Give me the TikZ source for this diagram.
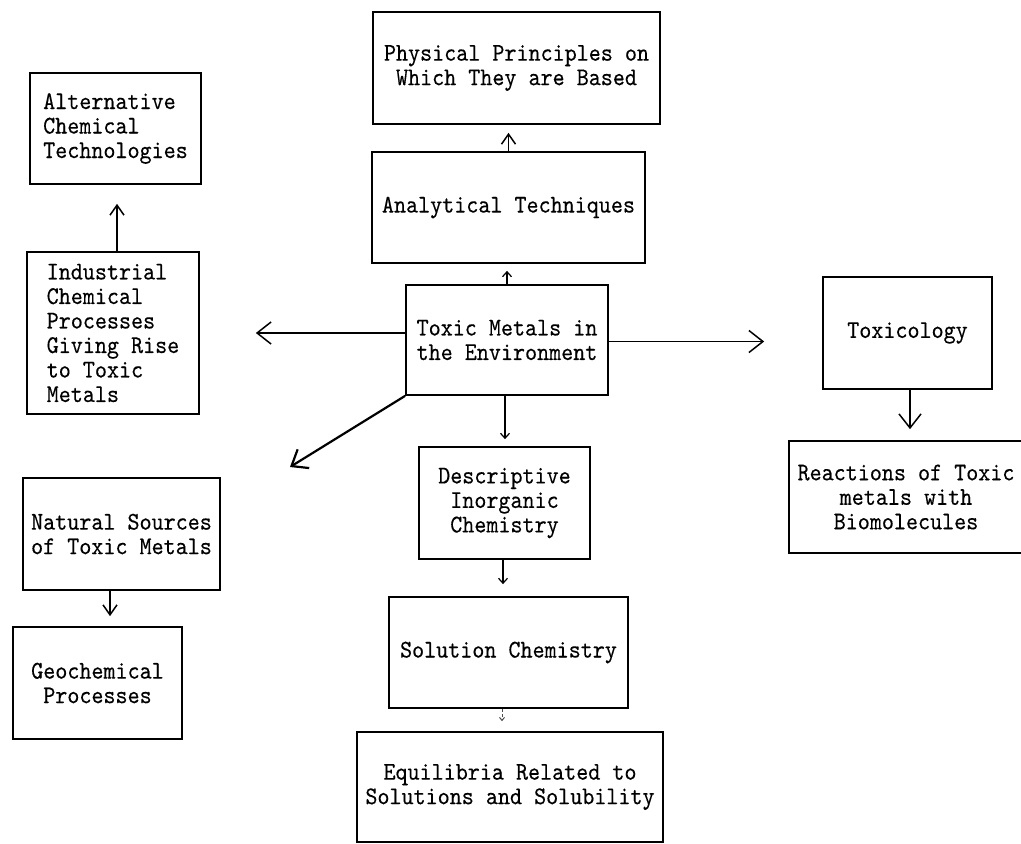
\documentclass[tikz,border=0pt]{standalone}
\usepackage{fontspec}
\newfontfamily\typefont{lmmono10-regular.otf}[FakeStretch=0.9, FakeBold=0.3]
\usetikzlibrary{arrows.meta,calc}
\begin{document}
\begin{tikzpicture}[x=1pt,y=-1pt,
  box/.style={draw, line width=1.7pt, inner sep=0pt, align=center,
    font=\typefont\fontsize{25.5}{24.5}\selectfont},
  lbox/.style={box, align=left},
  conn/.style={line width=1.5pt},
  bigarrow/.style={conn, -{Straight Barb[length=14pt,width=22pt]}},
  midarrow/.style={conn, -{Straight Barb[length=10pt,width=14pt]}},
  smallarrow/.style={conn, line width=1.2pt, -{Straight Barb[length=5pt,width=9pt]}},
  faintarrow/.style={line width=1pt, black!70, dash pattern=on 3pt off 2pt, -{Straight Barb[length=3pt,width=5pt]}}
]
\useasboundingbox (0,0) rectangle (1021,844);

\node[box, minimum width=287pt, minimum height=112pt] (phys) at (516.5,68) {Physical Principles on\\Which They are Based};
\node[box, minimum width=273pt, minimum height=111pt] (anal) at (508.5,207.5) {Analytical Techniques};
\node[lbox, minimum width=171pt, minimum height=111pt] (alt) at (115.5,128.5) {Alternative\\Chemical\\Technologies};
\node[lbox, minimum width=172pt, minimum height=162pt] (ind) at (113,333) {Industrial\\Chemical\\Processes\\Giving Rise\\to Toxic\\Metals};
\node[box, minimum width=202pt, minimum height=110pt] (toxic) at (507,340) {Toxic Metals in\\the Environment};
\node[box, minimum width=169pt, minimum height=112pt] (toxicol) at (907.5,333) {Toxicology};
\node[box, minimum width=234pt, minimum height=112pt] (react) at (906,497) {Reactions of Toxic\\metals with\\Biomolecules};
\node[box, minimum width=171pt, minimum height=112pt] (desc) at (504.5,503) {Descriptive\\Inorganic\\Chemistry};
\node[box, minimum width=197pt, minimum height=112pt] (nat) at (121.5,534) {Natural Sources\\of Toxic Metals};
\node[box, minimum width=169pt, minimum height=112pt] (geo) at (97.5,683) {Geochemical\\Processes};
\node[box, minimum width=239pt, minimum height=111pt] (sol) at (508.5,652.5) {Solution Chemistry};
\node[box, minimum width=306pt, minimum height=110pt] (equi) at (510,787) {Equilibria Related to\\Solutions and Solubility};

\coordinate (diagend) at (290,467);

% connectors
\draw[smallarrow, shorten >=7pt] (toxic.north) -- (toxic.north |- anal.south);
\draw[midarrow, shorten >=8pt] (anal.north) -- (anal.north |- phys.south);
\draw[bigarrow, shorten >=56pt] (toxic.west |- ind.east) -- (ind.east);
\draw[bigarrow, shorten >=58pt] ([yshift=-1.5pt]toxic.east) -- ([yshift=-1.5pt]toxic.east -| toxicol.west);
\draw[bigarrow, shorten >=11pt] ([xshift=2.5pt]toxicol.south) -- ([xshift=2.5pt]toxicol.south |- react.north);
\draw[smallarrow, shorten >=7pt] ([xshift=-2pt]toxic.south) -- ([xshift=-2pt]toxic.south |- desc.north);
\draw[smallarrow, shorten >=12pt] ([xshift=-1.5pt]desc.south) -- ([xshift=-1.5pt]desc.south |- sol.north);
\draw[faintarrow, shorten >=10pt] ([xshift=-6.5pt]sol.south) -- ([xshift=-6.5pt]sol.south |- equi.north);
\draw[bigarrow, line width=2.2pt] (toxic.south west) -- (diagend);
\draw[midarrow, shorten >=19pt] ([xshift=4pt]ind.north) -- ([xshift=4pt]ind.north |- alt.south);
\draw[midarrow, shorten >=10pt] ([xshift=-11.5pt]nat.south) -- ([xshift=-11.5pt]nat.south |- geo.north);
\end{tikzpicture}
\end{document}
